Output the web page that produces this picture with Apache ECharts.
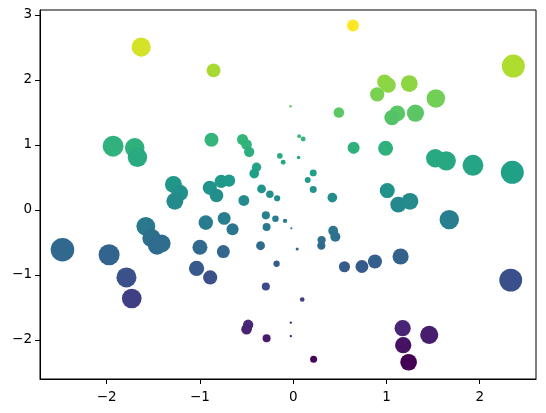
<!DOCTYPE html>
<html>
<head>
<meta charset="utf-8">
<script src="https://cdn.jsdelivr.net/npm/echarts@6/dist/echarts.min.js"></script>
<style>
  html, body { margin: 0; padding: 0; background: #fff; }
  #chart { width: 546px; height: 413px; }
</style>
</head>
<body>
<div id="chart"></div>
<script>
// point positions
const xs = [
  -1.63, -0.854, -0.028, -1.931, -1.699, -1.67, -0.876, -0.543, -0.5, -0.472,
  0.064, 0.107, -0.143, -0.107, 0.058, -0.393, -0.418, -1.284, -1.216, -1.269,
  -0.894, -0.822, -0.772, -0.688, -0.529, -0.339, -0.25, -0.172, 0.641, 2.361,
  0.98, 1.02, 1.245, 0.901, 1.53, 0.49, 1.116, 1.06, 1.311, 0.648,
  0.991, 1.524, 1.642, 1.928, 2.35, 0.215, 0.156, 0.215, 0.42, 1.009,
  1.127, 1.252, 1.674, -0.087, -0.02, 0.429, 0.452, 0.305, 0.302, 0.043,
  0.55, 0.737, 0.877, 1.152, 2.333, 0.097, -0.025, -0.025, 0.219, 1.174,
  1.459, 1.18, 1.238, -0.178, -2.474, -1.974, -1.788, -1.731, -1.58, -1.519,
  -1.46, -1.41, -0.937, -0.74, -0.65, -1.0, -0.749, -1.036, -0.89, -0.293,
  -0.19, -0.285, -0.35, -0.293, -0.483, -0.5, -0.285
];
const ys = [
  2.505, 2.146, 1.596, 0.98, 0.955, 0.81, 1.079, 1.083, 1.006, 0.894,
  1.134, 1.09, 0.832, 0.733, 0.806, 0.656, 0.559, 0.39, 0.262, 0.133,
  0.34, 0.222, 0.44, 0.451, 0.146, 0.324, 0.24, 0.18, 2.835, 2.213,
  1.97, 1.92, 1.944, 1.777, 1.715, 1.499, 1.484, 1.42, 1.49, 0.955,
  0.949, 0.795, 0.755, 0.687, 0.579, 0.57, 0.46, 0.313, 0.19, 0.298,
  0.082, 0.133, -0.149, -0.168, -0.283, -0.32, -0.413, -0.463, -0.55, -0.601,
  -0.873, -0.869, -0.792, -0.715, -1.079, -1.377, -1.732, -1.94, -2.296, -1.818,
  -1.921, -2.08, -2.342, -0.827, -0.612, -0.689, -1.038, -1.362, -0.252, -0.432,
  -0.55, -0.515, -0.195, -0.13, -0.298, -0.573, -0.64, -0.9, -1.038, -0.083,
  -0.134, -0.262, -0.55, -1.177, -1.767, -1.834, -1.972
];
const xTicks = [-2, -1, 0, 1, 2];
const yTicks = [-2, -1, 0, 1, 2, 3];

const viridis = ['#440154', '#482878', '#3e4989', '#31688e', '#26828e',
                 '#1f9e89', '#35b779', '#6ece58', '#b5de2b', '#fde725'];

const chart = echarts.init(document.getElementById('chart'));

const axisCommon = {
  type: 'value',
  splitLine: { show: false },
  axisLine: { show: true, onZero: false, lineStyle: { color: '#000', width: 1 } },
  axisTick: { show: true, inside: false, length: 5, lineStyle: { color: '#000' } },
  axisLabel: { color: '#000', fontSize: 13.5, fontFamily: 'DejaVu Sans', margin: 8 }
};

chart.setOption({
  animation: false,
  backgroundColor: '#fff',
  grid: {
    left: 40, right: 10, top: 10, bottom: 34,
    show: true, borderColor: '#000', borderWidth: 1
  },
  xAxis: Object.assign({}, axisCommon, {
    min: -2.715, max: 2.604,
    axisTick: Object.assign({}, axisCommon.axisTick, { customValues: xTicks }),
    axisLabel: Object.assign({}, axisCommon.axisLabel, {
      customValues: xTicks,
      margin: 11,
      formatter: v => String(v).replace('-', '\u2212')
    })
  }),
  yAxis: Object.assign({}, axisCommon, {
    min: -2.60, max: 3.075,
    axisTick: Object.assign({}, axisCommon.axisTick, { customValues: yTicks }),
    axisLabel: Object.assign({}, axisCommon.axisLabel, {
      customValues: yTicks,
      formatter: v => String(v).replace('-', '\u2212')
    })
  }),
  visualMap: {
    show: false,
    type: 'continuous',
    dimension: 1,
    min: Math.min(...ys),
    max: Math.max(...ys),
    inRange: { color: viridis }
  },
  series: [{
    type: 'scatter',
    data: xs.map((x, i) => [x, ys[i]]),
    // marker area grows with |x|
    symbolSize: v => 15 * Math.sqrt(Math.abs(v[0])),
    itemStyle: { opacity: 1 }
  }]
});
</script>
</body>
</html>
